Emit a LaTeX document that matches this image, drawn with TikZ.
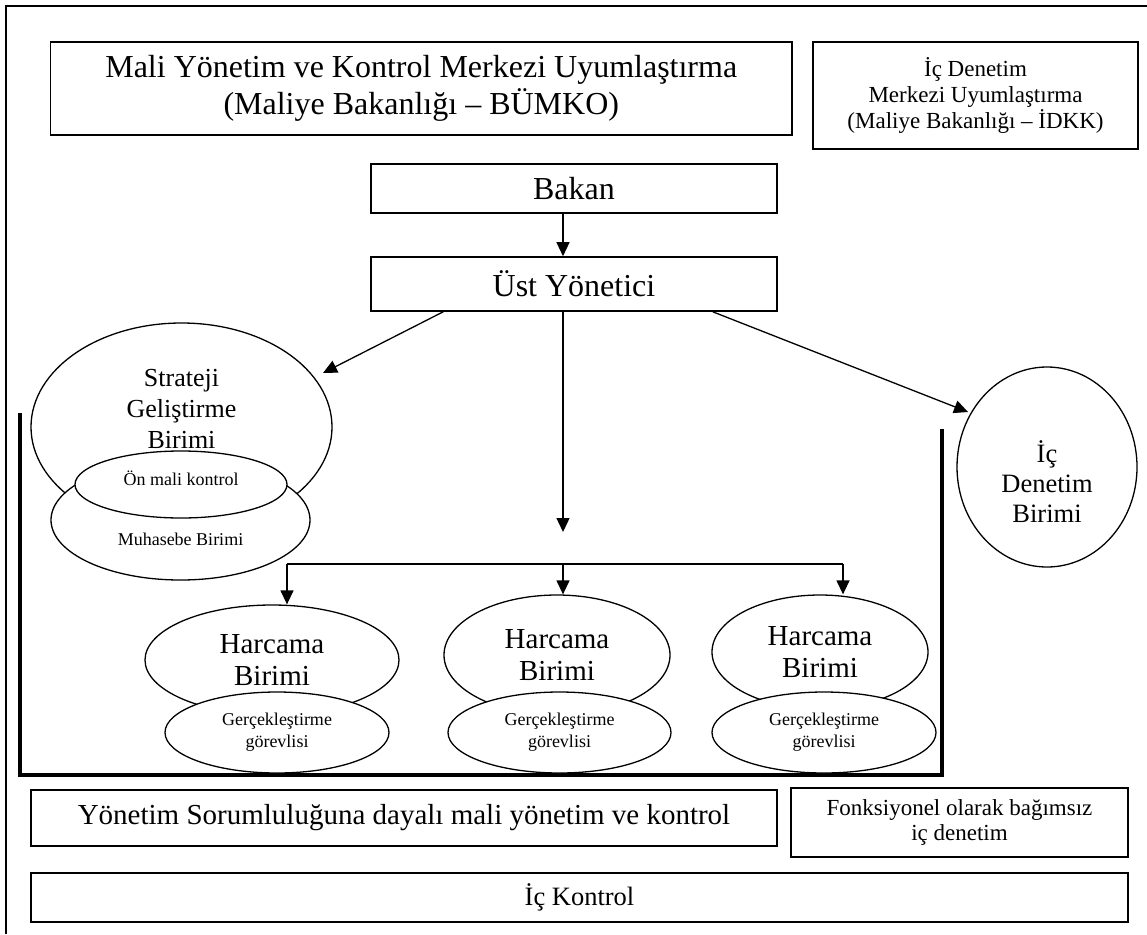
\documentclass[tikz,border=0pt]{standalone}
\usepackage{fontspec}
\setmainfont{Liberation Serif}
\usetikzlibrary{arrows.meta,shapes.geometric}
\newcommand{\fs}[2]{\fontsize{#1}{#2}\selectfont}
\begin{document}
\begin{tikzpicture}[x=1pt,y=-1pt,
  box/.style={draw,line width=1.6pt,inner sep=0pt,align=center},
  ell/.style={draw,ellipse,line width=1.3pt,fill=white,inner sep=0pt,align=center},
  arr/.style={line width=1.3pt,-{Triangle[length=14pt,width=13pt]}},
  conn/.style={line width=1.3pt},
  bracketline/.style={line width=3.5pt,line join=miter},
  framel/.style={line width=1.8pt},
  lbl/.style={align=center,inner sep=0pt}
]
\useasboundingbox (0,0) rectangle (1147,934);
% outer frame (top and left only)
\draw[framel] (6,934) -- (6,6) -- (1147,6);

% top boxes
\node[box,minimum width=741.5pt,minimum height=93pt,font=\fs{32}{37}] (bumko) at (421.25,88.5)
  {Mali Yönetim ve Kontrol Merkezi Uyumlaştırma\\(Maliye Bakanlığı – BÜMKO)};
\node[box,minimum width=325pt,minimum height=107pt,font=\fs{23}{26}] (idkk) at (975.5,95.5)
  {İç Denetim\\Merkezi Uyumlaştırma\\(Maliye Bakanlığı – İDKK)};
\node[box,minimum width=406pt,minimum height=49pt,font=\fs{32}{37}] (bakan) at (574,188.5) {Bakan};
\node[box,minimum width=406pt,minimum height=54pt,font=\fs{32}{37}] (ust) at (574,284) {Üst Yönetici};

% bracket
\draw[bracketline] (20,413) -- (20,775) -- (942,775) -- (942,429);

% strateji group
\node[ell,minimum width=301pt,minimum height=208pt,
  label={[lbl,font=\fs{26}{31},yshift=18pt]center:Strateji\\Geliştirme\\Birimi}] (strat) at (181.5,427) {};
\node[ell,minimum width=259pt,minimum height=120pt,
  label={[lbl,font=\fs{18}{22},yshift=-19pt]center:Muhasebe Birimi}] (muh) at (180.5,520) {};
\node[ell,minimum width=212pt,minimum height=67pt,
  label={[lbl,font=\fs{18}{22},yshift=6pt]center:Ön mali kontrol}] (onmali) at (181,484.5) {};

% ic denetim birimi
\node[ell,minimum width=180pt,minimum height=200pt,
  label={[lbl,font=\fs{26.5}{30},yshift=-15pt]center:İç\\Denetim\\Birimi}] (idb) at (1047,467) {};

% harcama birimleri
\node[ell,minimum width=254pt,minimum height=110pt,font=\fs{29}{32}] (h1) at (272,660) {Harcama\\Birimi};
\node[ell,minimum width=226pt,minimum height=120pt,font=\fs{29}{32}] (h2) at (557,655) {Harcama\\Birimi};
\node[ell,minimum width=216pt,minimum height=114pt,font=\fs{29}{32}] (h3) at (820,652) {Harcama\\Birimi};
\node[ell,minimum width=224pt,minimum height=81pt,font=\fs{18}{22}] (g1) at (277,732.5) {Gerçekleştirme\\görevlisi};
\node[ell,minimum width=223pt,minimum height=81pt,font=\fs{18}{22}] (g2) at (559.5,732.5) {Gerçekleştirme\\görevlisi};
\node[ell,minimum width=224pt,minimum height=81pt,font=\fs{18}{22}] (g3) at (824,732.5) {Gerçekleştirme\\görevlisi};

% bottom boxes
\node[box,minimum width=746pt,minimum height=56pt,font=\fs{29}{34}] (yms) at (404,818)
  {Yönetim Sorumluluğuna dayalı mali yönetim ve kontrol};
\node[box,minimum width=337pt,minimum height=69pt,font=\fs{23}{25}] (fonk) at (959.5,822.5)
  {Fonksiyonel olarak bağımsız\\iç denetim};
\node[box,minimum width=1097pt,minimum height=49pt,font=\fs{26.5}{30}] (ick) at (579.5,897.5) {İç Kontrol};

% connectors
\coordinate (cx) at (563,0);
\draw[arr] (bakan.south -| cx) -- (ust.north -| cx);
\coordinate (stratTip) at (323,373);
\coordinate (idbTip) at (968,412);
\coordinate (midTip) at (563,532);
\draw[arr] ([xshift=73pt]ust.south west) -- (stratTip);
\draw[arr] ([xshift=-65pt]ust.south east) -- (idbTip);
\draw[arr] (ust.south -| cx) -- (midTip);
\coordinate (d1) at (287,564);
\coordinate (d2) at (563,564);
\coordinate (d3) at (843,564);
\draw[conn] (d1) -- (d3);
\draw[arr] (d1) -- (d1 |- h1.north);
\draw[arr] (d2) -- (d2 |- h2.north);
\draw[arr] (d3) -- (d3 |- h3.north);
\end{tikzpicture}
\end{document}
